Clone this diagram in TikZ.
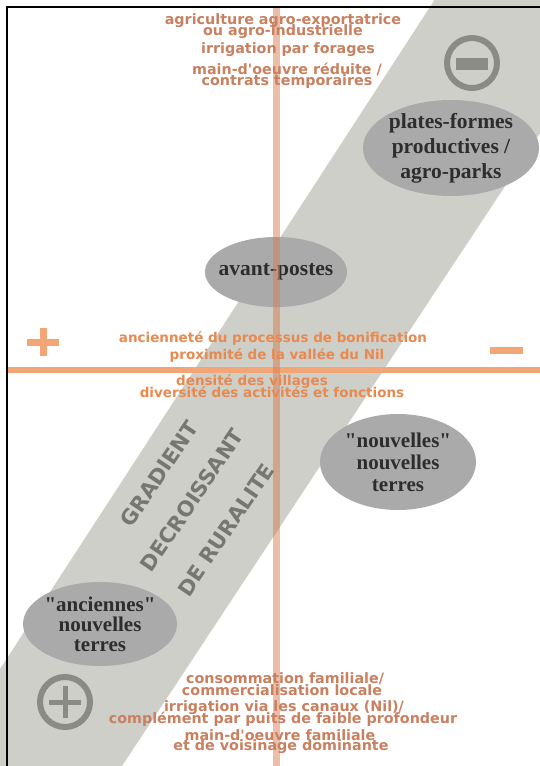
\documentclass[tikz,border=0pt]{standalone}
\usepackage{fontspec}
\setmainfont{Liberation Serif}
\newfontfamily\dejab{DejaVu Sans}
\usetikzlibrary{shapes.geometric,calc}
\definecolor{bandgray}{RGB}{205,207,200}
\definecolor{ellgray}{RGB}{170,170,170}
\definecolor{elltext}{RGB}{45,45,45}
\definecolor{toptxt}{RGB}{200,128,96}
\definecolor{midtxt}{RGB}{232,137,80}
\definecolor{hlinec}{RGB}{242,166,118}
\definecolor{vlinec}{RGB}{215,125,80}
\definecolor{iconc}{RGB}{138,138,134}
\definecolor{gradtxt}{RGB}{118,118,114}
\tikzset{
  otxt/.style={inner sep=0pt, text height=10pt, text depth=3pt},
  toptext/.style={otxt, font=\dejab\bfseries\fontsize{14.3}{11}\selectfont, text=toptxt},
  midtext/.style={otxt, font=\dejab\bfseries\fontsize{13.5}{11}\selectfont, text=midtxt},
  ellnode/.style={ellipse, fill=ellgray, inner sep=-12pt, text=elltext, align=center},
  gradstyle/.style={font=\dejab\bfseries\fontsize{21}{22}\selectfont, text=gradtxt, rotate=56, inner sep=0pt}
}
\begin{document}
\begin{tikzpicture}[x=1pt,y=-1pt]
\useasboundingbox (0,0) rectangle (540,766);
\begin{scope}
\clip (0,0) rectangle (540,766);
% band
\fill[bandgray] (434.5,0) -- (628,0) -- (122,766) -- (-63,766) -- cycle;
% ellipses
\node[ellnode, minimum width=176pt, minimum height=96pt, font=\bfseries\fontsize{21.5}{25}\selectfont] (plates) at (451,148) {plates-formes\\productives /\\agro-parks};
\node[ellnode, minimum width=142pt, minimum height=70pt, font=\bfseries\fontsize{21.5}{22}\selectfont] (avant) at (276,272) {avant-postes};
\node[ellnode, minimum width=156pt, minimum height=96pt, font=\bfseries\fontsize{21}{22}\selectfont] (nouv) at (398,462) {\textquotedbl nouvelles\textquotedbl\\nouvelles\\terres};
\node[ellnode, minimum width=154pt, minimum height=84pt, font=\bfseries\fontsize{21}{20}\selectfont] (anc) at (100,624) {\textquotedbl anciennes\textquotedbl\\nouvelles\\terres};
% axes
\coordinate (hl) at (7,370);
\coordinate (hr) at (540,370);
\coordinate (vt) at (276,7);
\coordinate (vb) at (276,766);
\draw[hlinec, line width=6pt] (hl) -- (hr);
\draw[vlinec, line width=7pt, opacity=0.5] (vt) -- (vb);
% + and - signs
\coordinate (plusc) at (43,342);
\fill[hlinec] ($(plusc)+(-16,-3.5)$) rectangle ($(plusc)+(16,3.5)$);
\fill[hlinec] ($(plusc)+(-3.5,-14)$) rectangle ($(plusc)+(3.5,14)$);
\fill[hlinec] (490,346.5) rectangle (523,353.5);
% icons
\node[circle, draw=iconc, line width=6pt, minimum size=50pt, inner sep=0pt] (minusicon) at (472,63) {};
\fill[iconc] (456,57.5) rectangle (488,69.5);
\node[circle, draw=iconc, line width=6pt, minimum size=50pt, inner sep=0pt] (plusicon) at (65,702) {};
\fill[iconc] (49,699.5) rectangle (81,704.5);
\fill[iconc] (62.5,686) rectangle (67.5,718);
% gradient label
\node[gradstyle] (g1) at (159,474) {GRADIENT};
\node[gradstyle] (g2) at (192,500) {DECROISSANT};
\node[gradstyle] (g3) at (226,530) {DE RURALITE};
% top texts
\node[toptext] (t1) at (283,21) {agriculture agro-exportatrice};
\node[toptext] (t2) at (283,32) {ou agro-industrielle};
\node[toptext] (t3) at (288,50) {irrigation par forages};
\node[toptext] (t4) at (287,71) {main-d'oeuvre réduite /};
\node[toptext] (t5) at (287,82) {contrats temporaires};
% middle texts
\node[midtext] (m1) at (273,339) {ancienneté du processus de bonification};
\node[midtext] (m2) at (277,356) {proximité de la vallée du Nil};
\node[midtext] (m3) at (252,382) {densité des villages};
\node[midtext] (m4) at (272,394) {diversité des activités et fonctions};
% bottom texts
\node[toptext] (b1) at (285,680) {consommation familiale/};
\node[toptext] (b2) at (282,692) {commercialisation locale};
\node[toptext] (b3) at (284,708) {irrigation via les canaux (Nil)/};
\node[toptext] (b4) at (283,720) {complément par puits de faible profondeur};
\node[toptext] (b5) at (280,737) {main-d'oeuvre familiale};
\node[toptext] (b6) at (281,747) {et de voisinage dominante};
\end{scope}
% frame
\draw[black, line width=1.3pt] (7,766) -- (7,7) -- (540,7);
\end{tikzpicture}
\end{document}
